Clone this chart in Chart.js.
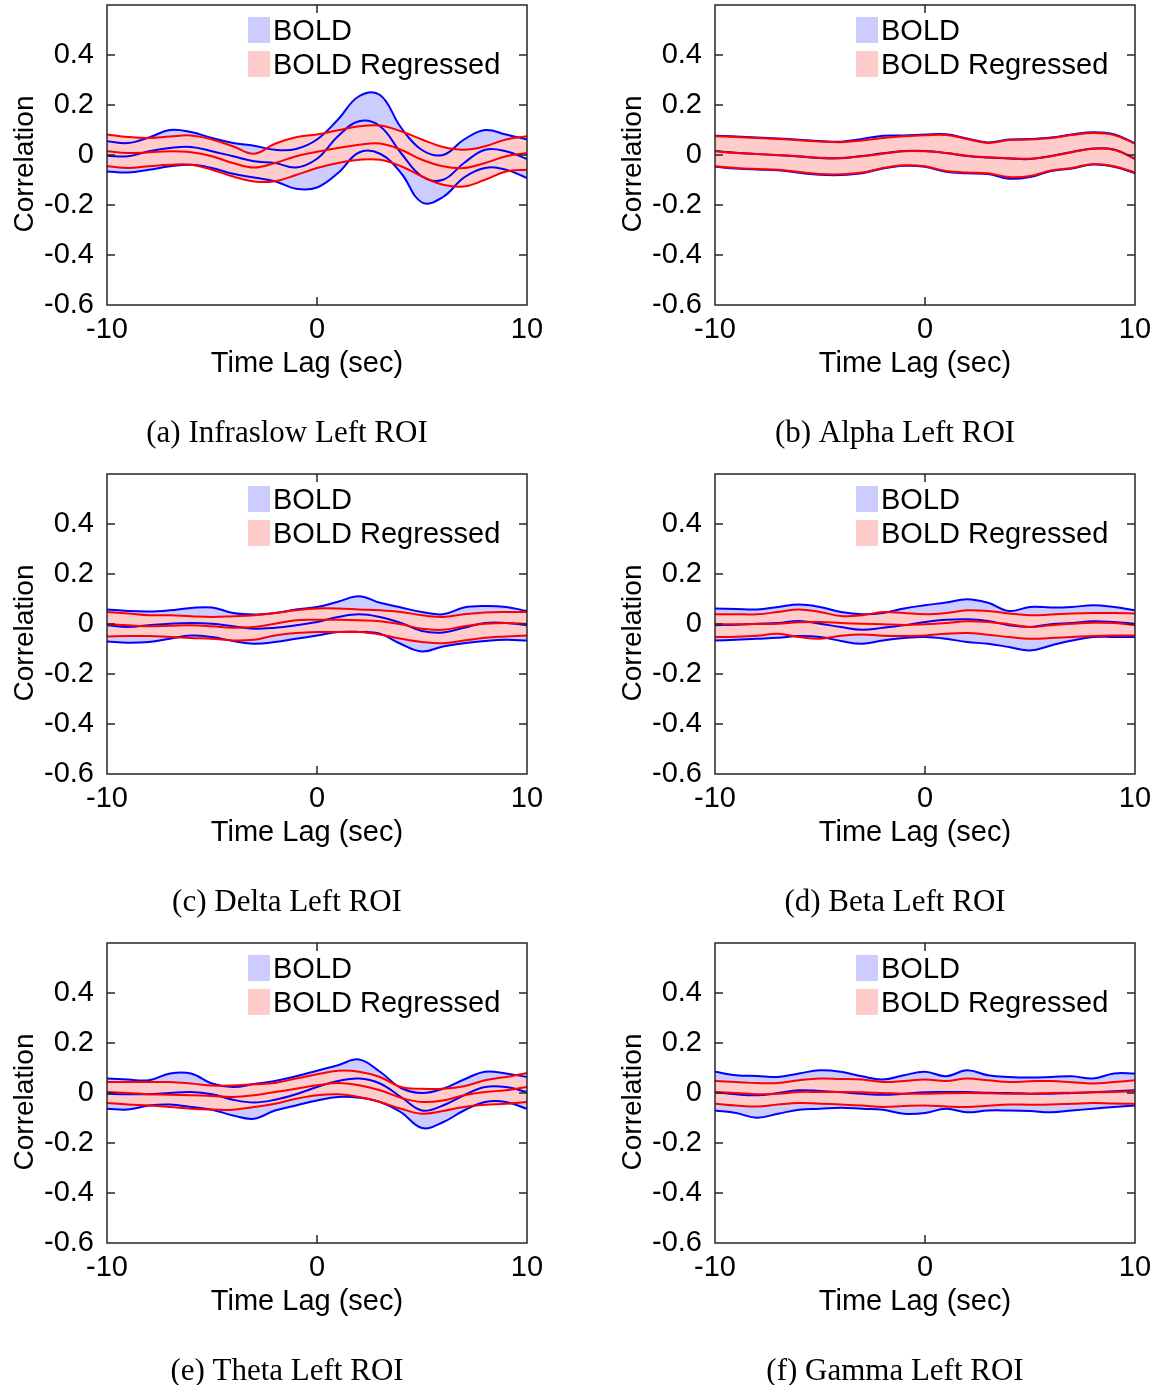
<!DOCTYPE html>
<html>
<head>
<meta charset="utf-8">
<script src="https://cdn.jsdelivr.net/npm/chart.js@4.4.0/dist/chart.umd.min.js"></script>
<style>
  html, body { margin: 0; padding: 0; background: #fff; overflow: hidden; }
  canvas { position: absolute; }
</style>
</head>
<body>
<canvas id="pa" width="560" height="460" style="left:0;top:0"></canvas>
<canvas id="pb" width="552" height="460" style="left:608px;top:0"></canvas>
<canvas id="pc" width="560" height="460" style="left:0;top:469px"></canvas>
<canvas id="pd" width="552" height="460" style="left:608px;top:469px"></canvas>
<canvas id="pe" width="560" height="460" style="left:0;top:938px"></canvas>
<canvas id="pf" width="552" height="460" style="left:608px;top:938px"></canvas>
<script>
// time lags (sec)
const lags = [-10, -9, -8, -7, -6, -5, -4, -3, -2, -1, 0, 1, 2, 3, 4, 5, 6, 7, 8, 9, 10];

// (a) Infraslow
const aBoldHi  = [0.055, 0.048, 0.070, 0.100, 0.092, 0.068, 0.048, 0.037, 0.021, 0.024, 0.062, 0.142, 0.235, 0.240, 0.110, 0.020, 0.000, 0.062, 0.100, 0.082, 0.062];
const aBoldMid = [-0.003, -0.005, 0.015, 0.028, 0.032, 0.015, -0.005, -0.025, -0.032, -0.050, -0.015, 0.075, 0.135, 0.115, 0.008, -0.086, -0.099, -0.032, 0.021, 0.015, -0.016];
const aBoldLo  = [-0.066, -0.070, -0.059, -0.045, -0.039, -0.052, -0.075, -0.090, -0.105, -0.135, -0.130, -0.072, 0.010, 0.005, -0.072, -0.190, -0.168, -0.090, -0.052, -0.059, -0.092];
const aRegHi   = [0.082, 0.072, 0.068, 0.074, 0.078, 0.062, 0.035, 0.005, 0.045, 0.071, 0.082, 0.099, 0.115, 0.118, 0.095, 0.062, 0.032, 0.021, 0.035, 0.062, 0.075];
const aRegMid  = [0.015, 0.008, 0.011, 0.015, 0.011, -0.005, -0.032, -0.050, -0.032, -0.005, 0.013, 0.028, 0.041, 0.046, 0.021, -0.019, -0.045, -0.052, -0.032, -0.005, 0.008];
const aRegLo   = [-0.045, -0.052, -0.045, -0.039, -0.039, -0.059, -0.086, -0.106, -0.105, -0.080, -0.052, -0.032, -0.019, -0.019, -0.045, -0.086, -0.119, -0.126, -0.099, -0.066, -0.059];

// (b) Alpha
const bBoldHi  = [0.077, 0.074, 0.070, 0.066, 0.061, 0.056, 0.053, 0.064, 0.077, 0.078, 0.082, 0.083, 0.066, 0.050, 0.062, 0.064, 0.070, 0.082, 0.091, 0.083, 0.047];
const bBoldMid = [0.016, 0.009, 0.004, -0.001, -0.006, -0.012, -0.013, -0.004, 0.007, 0.016, 0.016, 0.008, -0.004, -0.010, -0.014, -0.016, -0.004, 0.012, 0.026, 0.022, -0.015];
const bBoldLo  = [-0.047, -0.054, -0.058, -0.061, -0.071, -0.079, -0.080, -0.073, -0.054, -0.043, -0.047, -0.067, -0.073, -0.076, -0.095, -0.088, -0.064, -0.054, -0.038, -0.047, -0.073];
const bRegHi   = [0.075, 0.072, 0.068, 0.064, 0.059, 0.054, 0.051, 0.058, 0.068, 0.075, 0.079, 0.080, 0.064, 0.048, 0.060, 0.062, 0.068, 0.080, 0.088, 0.080, 0.045];
const bRegMid  = [0.015, 0.008, 0.004, 0.000, -0.005, -0.011, -0.012, -0.005, 0.005, 0.015, 0.015, 0.008, -0.003, -0.009, -0.013, -0.015, -0.005, 0.011, 0.025, 0.021, -0.016];
const bRegLo   = [-0.045, -0.052, -0.056, -0.059, -0.068, -0.076, -0.077, -0.070, -0.052, -0.041, -0.045, -0.064, -0.070, -0.073, -0.088, -0.084, -0.062, -0.052, -0.036, -0.045, -0.070];

// (c) Delta
const cBoldHi  = [0.058, 0.052, 0.050, 0.055, 0.064, 0.066, 0.044, 0.038, 0.044, 0.058, 0.068, 0.089, 0.111, 0.085, 0.066, 0.048, 0.039, 0.066, 0.072, 0.068, 0.052];
const cBoldMid = [-0.005, -0.012, -0.005, 0.001, 0.004, 0.001, -0.009, -0.019, -0.015, -0.005, 0.008, 0.028, 0.039, 0.028, 0.004, -0.028, -0.034, -0.015, 0.004, 0.004, -0.005];
const cBoldLo  = [-0.070, -0.075, -0.072, -0.059, -0.046, -0.052, -0.068, -0.079, -0.072, -0.059, -0.046, -0.032, -0.032, -0.039, -0.080, -0.110, -0.090, -0.077, -0.068, -0.063, -0.066];
const cRegHi   = [0.048, 0.042, 0.035, 0.035, 0.031, 0.028, 0.031, 0.035, 0.044, 0.055, 0.062, 0.062, 0.058, 0.055, 0.048, 0.035, 0.028, 0.039, 0.046, 0.048, 0.048];
const cRegMid  = [-0.001, -0.005, -0.009, -0.007, -0.005, -0.009, -0.015, -0.012, 0.001, 0.015, 0.017, 0.017, 0.015, 0.011, -0.001, -0.019, -0.023, -0.009, 0.001, 0.004, 0.001];
const cRegLo   = [-0.050, -0.048, -0.048, -0.052, -0.056, -0.059, -0.066, -0.063, -0.046, -0.036, -0.032, -0.032, -0.032, -0.042, -0.059, -0.072, -0.077, -0.066, -0.055, -0.050, -0.046];

// (d) Beta
const dBoldHi  = [0.062, 0.060, 0.058, 0.068, 0.078, 0.068, 0.048, 0.039, 0.044, 0.062, 0.075, 0.086, 0.099, 0.085, 0.052, 0.068, 0.066, 0.068, 0.075, 0.068, 0.055];
const dBoldMid = [-0.005, -0.003, 0.001, 0.004, 0.012, 0.001, -0.012, -0.023, -0.015, -0.005, 0.008, 0.017, 0.019, 0.012, -0.005, -0.012, -0.001, 0.004, 0.011, 0.008, 0.001];
const dBoldLo  = [-0.066, -0.063, -0.059, -0.055, -0.048, -0.052, -0.068, -0.079, -0.066, -0.056, -0.052, -0.059, -0.072, -0.079, -0.092, -0.106, -0.086, -0.066, -0.052, -0.052, -0.052];
const dRegHi   = [0.039, 0.039, 0.039, 0.048, 0.058, 0.048, 0.032, 0.035, 0.048, 0.044, 0.039, 0.044, 0.055, 0.052, 0.042, 0.035, 0.038, 0.042, 0.044, 0.044, 0.042];
const dRegMid  = [-0.001, -0.001, 0.000, 0.001, 0.007, 0.008, 0.004, 0.001, -0.001, -0.004, -0.001, 0.004, 0.011, 0.008, -0.001, -0.012, -0.005, 0.001, 0.005, 0.004, -0.005];
const dRegLo   = [-0.052, -0.051, -0.047, -0.039, -0.052, -0.059, -0.047, -0.042, -0.047, -0.048, -0.046, -0.039, -0.036, -0.043, -0.052, -0.059, -0.056, -0.052, -0.048, -0.046, -0.046];

// (e) Theta
const eBoldHi  = [0.058, 0.054, 0.051, 0.078, 0.078, 0.038, 0.024, 0.036, 0.048, 0.067, 0.089, 0.111, 0.134, 0.085, 0.020, 0.000, 0.017, 0.054, 0.085, 0.078, 0.064];
const eBoldMid = [-0.003, -0.005, -0.005, 0.000, 0.004, -0.005, -0.027, -0.038, -0.027, -0.005, 0.024, 0.048, 0.058, 0.038, -0.016, -0.070, -0.050, -0.009, 0.024, 0.024, 0.004];
const eBoldLo  = [-0.063, -0.066, -0.050, -0.046, -0.056, -0.067, -0.090, -0.103, -0.070, -0.050, -0.030, -0.016, -0.019, -0.036, -0.077, -0.140, -0.117, -0.070, -0.036, -0.036, -0.063];
const eRegHi   = [0.044, 0.044, 0.044, 0.044, 0.038, 0.030, 0.030, 0.035, 0.040, 0.058, 0.075, 0.089, 0.085, 0.064, 0.024, 0.017, 0.017, 0.027, 0.051, 0.064, 0.080];
const eRegMid  = [0.004, 0.000, -0.005, -0.007, -0.009, -0.012, -0.016, -0.009, 0.004, 0.017, 0.031, 0.040, 0.031, 0.011, -0.019, -0.036, -0.030, -0.009, 0.004, 0.011, 0.024];
const eRegLo   = [-0.040, -0.046, -0.050, -0.056, -0.063, -0.066, -0.067, -0.056, -0.043, -0.023, -0.009, -0.005, -0.016, -0.036, -0.063, -0.083, -0.072, -0.056, -0.047, -0.043, -0.036];

// (f) Gamma
const fBoldHi  = [0.085, 0.071, 0.068, 0.064, 0.078, 0.091, 0.085, 0.067, 0.054, 0.071, 0.085, 0.067, 0.091, 0.071, 0.064, 0.062, 0.064, 0.067, 0.058, 0.078, 0.078];
const fBoldMid = [0.004, -0.005, -0.009, 0.000, 0.011, 0.008, 0.003, -0.003, -0.007, -0.003, 0.003, 0.004, 0.004, 0.001, 0.000, -0.003, -0.003, 0.000, 0.003, 0.007, 0.011];
const fBoldLo  = [-0.070, -0.080, -0.099, -0.083, -0.067, -0.063, -0.059, -0.063, -0.067, -0.083, -0.080, -0.063, -0.077, -0.070, -0.070, -0.072, -0.077, -0.070, -0.063, -0.056, -0.050];
const fRegHi   = [0.048, 0.044, 0.040, 0.040, 0.051, 0.058, 0.056, 0.054, 0.044, 0.048, 0.054, 0.048, 0.058, 0.051, 0.044, 0.047, 0.048, 0.043, 0.038, 0.044, 0.051];
const fRegMid  = [0.004, 0.000, -0.005, -0.003, 0.004, 0.004, 0.004, 0.003, 0.000, -0.003, -0.003, -0.001, 0.000, -0.001, -0.003, -0.003, 0.000, 0.001, 0.003, 0.004, 0.008];
const fRegLo   = [-0.043, -0.050, -0.054, -0.046, -0.040, -0.043, -0.046, -0.050, -0.056, -0.052, -0.050, -0.054, -0.056, -0.051, -0.046, -0.047, -0.046, -0.043, -0.040, -0.042, -0.043];

const BLUE = '#0000ff', BLUE_FILL = '#ccccff';
const RED = '#ff0000', RED_FILL = '#ffcccc';
const SANS = '"Liberation Sans", Arial, sans-serif';

Chart.defaults.font.family = SANS;
Chart.defaults.font.size = 29;
Chart.defaults.color = '#000';

// box with inward ticks, axis titles, legend inside the axes, sub-caption below
const framePlugin = {
    id: 'frame',
    afterDraw(chart, args, opts) {
        const ctx = chart.ctx;
        const a = chart.chartArea;
        const x = chart.scales.x, y = chart.scales.y;
        const cx = (a.left + a.right) / 2;
        ctx.save();
        ctx.strokeStyle = '#262626';
        ctx.lineWidth = 1.5;
        ctx.strokeRect(a.left, a.top, a.width, a.height);
        ctx.beginPath();
        y.ticks.forEach(function (t) {
            const py = y.getPixelForValue(t.value);
            if (py <= a.top + 1 || py >= a.bottom - 1) return;
            ctx.moveTo(a.left, py); ctx.lineTo(a.left + 8, py);
            ctx.moveTo(a.right, py); ctx.lineTo(a.right - 8, py);
        });
        x.ticks.forEach(function (t) {
            const px = x.getPixelForValue(t.value);
            if (px <= a.left + 1 || px >= a.right - 1) return;
            ctx.moveTo(px, a.top); ctx.lineTo(px, a.top + 8);
            ctx.moveTo(px, a.bottom); ctx.lineTo(px, a.bottom - 8);
        });
        ctx.stroke();

        ctx.fillStyle = '#000';
        ctx.textBaseline = 'middle';
        ctx.textAlign = 'center';

        // axis titles
        ctx.font = '29px ' + SANS;
        ctx.fillText(opts.xTitle, cx - 10, a.bottom + 59);
        ctx.save();
        ctx.translate(a.left - 82, (a.top + a.bottom) / 2 + 9);
        ctx.rotate(-Math.PI / 2);
        ctx.font = '28px ' + SANS;
        ctx.fillText(opts.yTitle, 0, 0);
        ctx.restore();

        // legend
        const items = chart.data.datasets.filter(d => d.fill !== false).reverse();
        ctx.font = '29px ' + SANS;
        ctx.textAlign = 'left';
        items.forEach(function (d, i) {
            const top = a.top + 12 + i * 34;
            ctx.fillStyle = d.backgroundColor;
            ctx.fillRect(a.left + 141, top, 22, 26);
            ctx.fillStyle = '#000';
            ctx.fillText(d.label, a.left + 166, top + 15);
        });

        // caption
        ctx.font = '31px "Liberation Serif", "Times New Roman", serif';
        ctx.textAlign = 'center';
        ctx.fillText(opts.caption, cx - 30, a.bottom + 129);
        ctx.restore();
    }
};

function line(label, data, color, fill, fillColor) {
    return {
        label: label,
        data: data,
        borderColor: color,
        backgroundColor: fillColor || color,
        borderWidth: 2,
        pointRadius: 0,
        tension: 0.4,
        fill: fill,
    };
}

function makePanel(id, caption, padRight, boldHi, boldMid, boldLo, regHi, regMid, regLo) {
    new Chart(document.getElementById(id), {
        type: 'line',
        data: {
            labels: lags,
            datasets: [
                line('BOLD Regressed', regHi, RED, 2, RED_FILL),
                line('BOLD Regressed mean', regMid, RED, false),
                line('BOLD Regressed lower', regLo, RED, false),
                line('BOLD', boldHi, BLUE, 5, BLUE_FILL),
                line('BOLD mean', boldMid, BLUE, false),
                line('BOLD lower', boldLo, BLUE, false),
            ]
        },
        plugins: [framePlugin],
        options: {
            responsive: false,
            animation: false,
            events: [],
            layout: {
                padding: { left: 0, top: 5, right: padRight, bottom: 0 },
            },
            plugins: {
                legend: { display: false },
                tooltip: { enabled: false },
                filler: { drawTime: 'beforeDatasetsDraw' },
                frame: { caption: caption, xTitle: 'Time Lag (sec)', yTitle: 'Correlation' },
            },
            scales: {
                x: {
                    type: 'linear',
                    min: -10,
                    max: 10,
                    grid: { display: false, drawTicks: false },
                    border: { display: false },
                    ticks: {
                        stepSize: 10,
                        padding: 8,
                        maxRotation: 0,
                        callback: function (v) { return String(v); },
                    },
                    afterFit: function (s) {
                        s.height = 155;
                        s.paddingLeft = 0;
                        s.paddingRight = 0;
                    },
                },
                y: {
                    min: -0.6,
                    max: 0.6,
                    grid: { display: false, drawTicks: false },
                    border: { display: false },
                    ticks: {
                        stepSize: 0.2,
                        padding: 13,
                        callback: function (v) {
                            const r = Math.round(v * 10) / 10;
                            return r >= 0.6 ? '' : String(r);
                        },
                    },
                    afterFit: function (s) {
                        s.width = 107;
                        s.paddingTop = 0;
                        s.paddingBottom = 0;
                    },
                },
            },
        },
    });
}

makePanel('pa', '(a) Infraslow Left ROI', 33, aBoldHi, aBoldMid, aBoldLo, aRegHi, aRegMid, aRegLo);
makePanel('pb', '(b) Alpha Left ROI', 25, bBoldHi, bBoldMid, bBoldLo, bRegHi, bRegMid, bRegLo);
makePanel('pc', '(c) Delta Left ROI', 33, cBoldHi, cBoldMid, cBoldLo, cRegHi, cRegMid, cRegLo);
makePanel('pd', '(d) Beta Left ROI', 25, dBoldHi, dBoldMid, dBoldLo, dRegHi, dRegMid, dRegLo);
makePanel('pe', '(e) Theta Left ROI', 33, eBoldHi, eBoldMid, eBoldLo, eRegHi, eRegMid, eRegLo);
makePanel('pf', '(f) Gamma Left ROI', 25, fBoldHi, fBoldMid, fBoldLo, fRegHi, fRegMid, fRegLo);
</script>
</body>
</html>
